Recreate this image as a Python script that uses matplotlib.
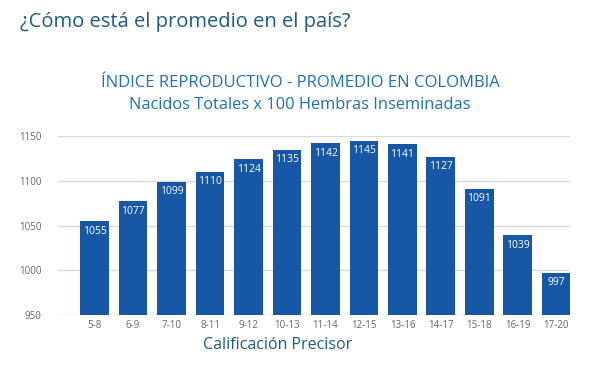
import matplotlib.pyplot as plt

categories = ['5-8', '6-9', '7-10', '8-11', '9-12', '10-13', '11-14',
              '12-15', '13-16', '14-17', '15-18', '16-19', '17-20']
values = [1055, 1077, 1099, 1110, 1124, 1135, 1142, 1145, 1141, 1127, 1091, 1039, 997]
yticks = [950, 1000, 1050, 1100, 1150]

plt.rcParams['font.family'] = ['Open Sans', 'DejaVu Sans']

fig = plt.figure(figsize=(6, 3.65), dpi=100)
ax = fig.add_axes([0.0967, 0.137, 0.853, 0.49])

x = range(len(categories))
bars = ax.bar(x, values, width=0.75, color='#1657a6', zorder=3)
for b, v in zip(bars, values):
    ax.text(b.get_x() + b.get_width() / 2, v - 5, str(v), ha='center', va='top',
            color='white', fontsize=7.5)

ax.set_ylim(950, 1150)
ax.set_xlim(-0.95, 12.35)
ax.set_yticks(yticks)
ax.set_xticks(list(x))
ax.set_xticklabels(categories)
ax.tick_params(length=0, labelsize=7, colors='#666666')
ax.tick_params(axis='y', pad=12)
ax.grid(axis='y', color='#d9d9d9', linewidth=1, zorder=0)
for s in ax.spines.values():
    s.set_visible(False)

fig.text(0.463, 0.055, 'Calificación Precisor', fontsize=11.5, color='#1d5a87',
         ha='center', va='center', fontweight='medium')
fig.text(0.033, 0.94, '¿Cómo está el promedio en el país?', fontsize=14.5,
         color='#1d5a87', va='center', fontweight='medium')
fig.text(0.5, 0.772, 'ÍNDICE REPRODUCTIVO - PROMEDIO EN COLOMBIA', fontsize=12,
         color='#1f6fb5', ha='center', va='center')
fig.text(0.5, 0.712, 'Nacidos Totales x 100 Hembras Inseminadas', fontsize=11.8,
         color='#1f6fb5', ha='center', va='center')

fig.savefig('out.png', dpi=100, facecolor='white')
